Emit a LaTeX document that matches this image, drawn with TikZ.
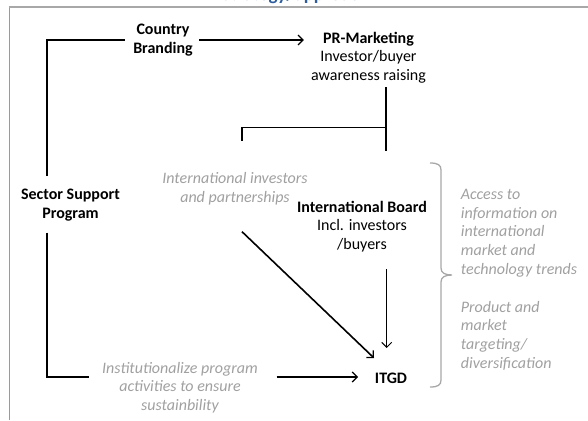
\documentclass[tikz,border=0pt]{standalone}
\usepackage{fontspec}
\setmainfont{Carlito}
\usetikzlibrary{arrows.meta}
\definecolor{txtgray}{HTML}{A0A0A0}
\definecolor{bracegray}{HTML}{A8A8A8}
\definecolor{framegray}{HTML}{9A9A9A}
\definecolor{titleblue}{HTML}{2E5D9F}
\begin{document}
\begin{tikzpicture}[x=1pt,y=-1pt,
  lbl/.style={font=\fontsize{16}{18.7}\selectfont\bfseries, align=center, inner sep=0pt},
  sub/.style={font=\fontsize{16}{18.7}\selectfont, align=center, inner sep=0pt},
  note/.style={font=\fontsize{16}{18.7}\selectfont\itshape, text=txtgray, inner sep=0pt},
  conn/.style={line width=1.6pt},
  arr/.style={conn, -{Straight Barb[length=5pt,width=10pt,line width=1.2pt]}},
  thinarr/.style={line width=1pt, -{Straight Barb[length=5pt,width=10pt,line width=1pt]}},
  bracestyle/.style={draw=bracegray, line width=1.3pt}
]
\useasboundingbox (0,0) rectangle (588,420);

% frame and clipped title
\draw[framegray, line width=1pt] (9,420) -- (9,7.3);
\draw[bracegray, line width=2pt] (8.5,7.3) -- (588,7.3);
\begin{scope}
  \clip (0,0) rectangle (588,5);
  \node[font=\fontsize{19}{22}\selectfont\bfseries, text=titleblue, anchor=base, inner sep=0pt] (title) at (295,1) {Strategy/approach};
\end{scope}

% nodes
\node[lbl] (cb) at (163,40) {Country\\Branding};
\node[sub] (pr) at (368.5,57.5) {\textbf{PR-Marketing}\\Investor/buyer\\awareness raising};
\node[lbl] (ssp) at (70.5,205) {Sector Support\\Program};
\node[note, align=center] (iip) at (235,189) {International investors\\and partnerships};
\node[sub] (ib) at (362,226.5) {\textbf{International Board}\\Incl. investors\\/buyers};
\node[lbl] (itgd) at (391,378) {ITGD};
\node[note, align=center] (inst) at (180,387.5) {Institutionalize program\\activities to ensure\\sustainbility};
\node[note, align=left, anchor=west] (acc) at (460.7,233) {Access to\\information on\\international\\market and\\technology trends};
\node[note, align=left, anchor=west] (prod) at (460.7,335.5) {Product and\\market\\targeting/\\diversification};

% coordinates for connector ends
\coordinate (sspUp) at (46.7,176);
\coordinate (sspDn) at (46.7,232.7);
\coordinate (cbIn) at (125,40);
\coordinate (prTop) at (386,87);
\coordinate (prBot) at (386,151);
\coordinate (prJ) at (386,127.3);
\coordinate (stub) at (242,140.7);
\coordinate (ibOut) at (386.7,269);
\coordinate (ibIn) at (386.7,348);
\coordinate (iipOut) at (242,231.7);
\coordinate (itgdNW) at (374,358);
\coordinate (instIn) at (89,377);
\coordinate (instOut) at (276.7,377);
\coordinate (itgdW) at (358,377);

% connectors
\draw[conn] (sspUp) |- (cbIn);
\draw[arr] ([xshift=6.5pt]cb.east) -- ([xshift=-7pt]cb.east -| pr.west);
\draw[conn] (prTop) -- (prBot);
\draw[conn] (prJ) -| (stub);
\draw[thinarr] (ibOut) -- (ibIn);
\draw[arr] (iipOut) -- (itgdNW);
\draw[conn] (sspDn) |- (instIn);
\draw[arr] (instOut) -- (itgdW);

% brace
\draw[bracestyle] (430,163) .. controls (438,163) and (441,165) .. (441,170)
  -- (441,268) .. controls (441,273) and (445,275) .. (452,275)
  .. controls (445,275) and (441,277) .. (441,282)
  -- (441,380) .. controls (441,385) and (438,387) .. (430,387);
\end{tikzpicture}
\end{document}
